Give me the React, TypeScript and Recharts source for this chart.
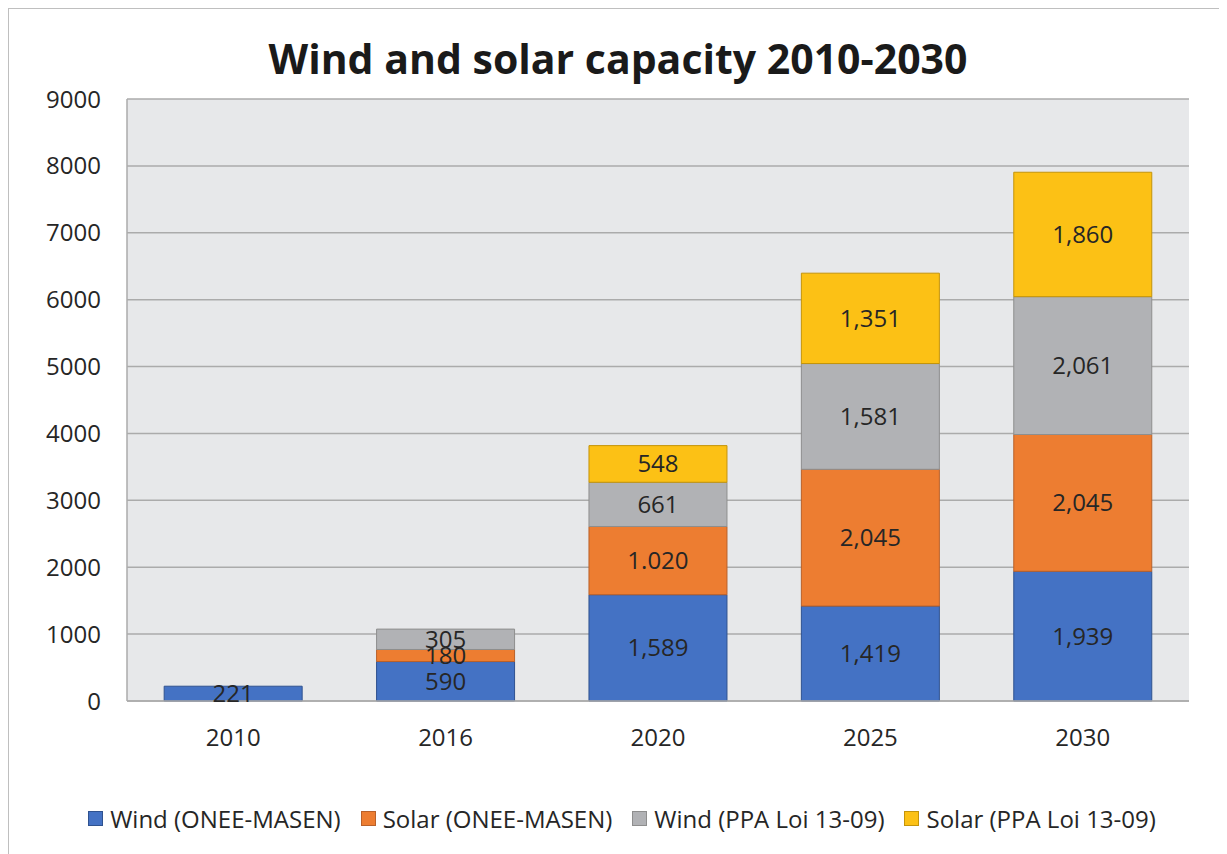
import { BarChart, Bar, XAxis, YAxis, CartesianGrid, Legend, LabelList } from 'recharts';

const years = ['2010', '2016', '2020', '2025', '2030'];
const windOnee = [221, 590, 1589, 1419, 1939];
const solarOnee = [null, 180, 1020, 2045, 2045];
const windPpa = [null, 305, 661, 1581, 2061];
const solarPpa = [null, null, 548, 1351, 1860];
// the source prints the 2020 solar figure with a dot
const solarOneeLabels = ['', '180', '1.020', '2,045', '2,045'];
const yTicks = [0, 1000, 2000, 3000, 4000, 5000, 6000, 7000, 8000, 9000];

const series = [
  { key: 'windOnee', name: 'Wind (ONEE-MASEN)', fill: '#4472C4', stroke: '#2F528F' },
  { key: 'solarOnee', name: 'Solar (ONEE-MASEN)', fill: '#ED7D31', stroke: '#B9612A' },
  { key: 'windPpa', name: 'Wind (PPA Loi 13-09)', fill: '#B1B2B5', stroke: '#8E8E8E' },
  { key: 'solarPpa', name: 'Solar (PPA Loi 13-09)', fill: '#FCC115', stroke: '#C4940A' },
];

const data = years.map((year, i) => ({
  year,
  windOnee: windOnee[i],
  solarOnee: solarOnee[i],
  windPpa: windPpa[i],
  solarPpa: solarPpa[i],
  solarOneeLabel: solarOneeLabels[i],
}));

const FONT = '"Open Sans", sans-serif';
const fmt = (v: any) => (v == null ? '' : Number(v).toLocaleString('en-US'));

function renderLegend() {
  return (
    <div style={{ display: 'flex', justifyContent: 'center', fontFamily: FONT, fontSize: 24, color: '#262626' }}>
      {series.map((s) => (
        <div key={s.key} style={{ display: 'flex', alignItems: 'center', margin: '0 10px' }}>
          <span
            style={{
              display: 'inline-block',
              width: 13,
              height: 13,
              background: s.fill,
              border: `1px solid ${s.stroke}`,
              marginRight: 7,
            }}
          />
          <span>{s.name}</span>
        </div>
      ))}
    </div>
  );
}

export default function App() {
  return (
    <div
      style={{
        position: 'relative',
        width: 1218,
        height: 845,
        borderLeft: '1.5px solid #BFBFBF',
        borderTop: '1.5px solid #BFBFBF',
        background: '#fff',
        overflow: 'hidden',
      }}
    >
      <div
        style={{
          position: 'absolute',
          top: 24,
          left: 0,
          width: 1218,
          textAlign: 'center',
          fontFamily: FONT,
          fontWeight: 700,
          fontSize: 41,
          color: '#1a1a1a',
          lineHeight: '50px',
        }}
      >
        Wind and solar capacity 2010-2030
      </div>
      <BarChart
        width={1218}
        height={845}
        data={data}
        margin={{ top: 90, right: 38, left: 18, bottom: 60 }}
        barCategoryGap="17.5%"
      >
        <CartesianGrid vertical={false} stroke="#ABABAB" strokeWidth={1.5} fill="#E7E8EA" />
        <XAxis
          dataKey="year"
          tickLine={false}
          tickSize={0}
          tickMargin={28}
          height={60}
          axisLine={{ stroke: '#ABABAB', strokeWidth: 1.5 }}
          tick={{ fontFamily: FONT, fontSize: 24, fill: '#262626' }}
        />
        <YAxis
          domain={[0, 9000]}
          ticks={yTicks}
          width={100}
          tickLine={false}
          tickSize={0}
          tickMargin={26}
          axisLine={{ stroke: '#ABABAB', strokeWidth: 1.5 }}
          tick={{ fontFamily: FONT, fontSize: 24, fill: '#262626' }}
        />
        <Legend
          verticalAlign="bottom"
          content={renderLegend}
          wrapperStyle={{ top: 793, bottom: 'auto', left: 4, width: 1218 }}
        />
        {series.map((s) => (
          <Bar
            key={s.key}
            dataKey={s.key}
            name={s.name}
            stackId="a"
            fill={s.fill}
            stroke={s.stroke}
            strokeWidth={1}
            isAnimationActive={false}
          >
            <LabelList
              dataKey={s.key === 'solarOnee' ? 'solarOneeLabel' : s.key}
              position="center"
              formatter={s.key === 'solarOnee' ? (v: any) => v : fmt}
              style={{ fontFamily: FONT, fontSize: 24, fill: '#262626' }}
            />
          </Bar>
        ))}
      </BarChart>
    </div>
  );
}
